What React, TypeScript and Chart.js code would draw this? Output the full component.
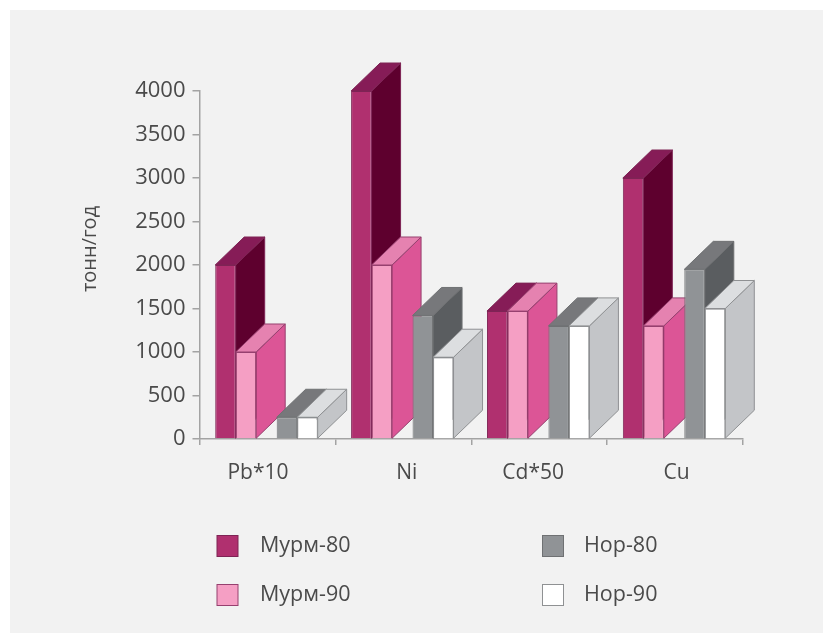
import React, { useEffect, useRef } from "react";
import { Chart, registerables } from "chart.js";

Chart.register(...registerables);

const categories = ["Pb*10", "Ni", "Cd*50", "Cu"];
const murm80 = [2000, 4000, 1470, 3000];
const murm90 = [1000, 2000, 1470, 1300];
const nor80 = [250, 1420, 1300, 1950];
const nor90 = [250, 940, 1300, 1500];
const gap: (number | null)[] = [null, null, null, null];
const yTicks = [0, 500, 1000, 1500, 2000, 2500, 3000, 3500, 4000];
const yTitle = "тонн/год";
const labelNudge = [-9.5, 3.5, -6, 1.5];

const FONT = '"Open Sans", sans-serif';
const TEXT = "#4a4a4a";
const AXIS = "#a3a3a3";
const DX = 29;
const DY = 28;

const series = [
  { label: "Мурм-80", data: murm80, front: "#b0306f", side: "#5e002e", top: "#861c57", line: "#7e2455" },
  { label: "Мурм-90", data: murm90, front: "#f59fc4", side: "#dc5596", top: "#e582b0", line: "#96406f" },
  { label: "", data: gap, front: "rgba(0,0,0,0)", side: "", top: "", line: "rgba(0,0,0,0)" },
  { label: "Нор-80", data: nor80, front: "#909396", side: "#5a5d60", top: "#77787b", line: "#6f7173" },
  { label: "Нор-90", data: nor90, front: "#ffffff", side: "#c3c5c8", top: "#dcdee0", line: "#8f9193" },
];

const legendLayout = [
  { index: 0, box: 217, text: 260, y: 546 },
  { index: 1, box: 217, text: 260, y: 595 },
  { index: 3, box: 542.5, text: 584, y: 546 },
  { index: 4, box: 542.5, text: 584, y: 595 },
];

const bars3d = {
  id: "bars3d",
  beforeDraw(chart: any) {
    const { ctx, width, height } = chart;
    ctx.save();
    ctx.fillStyle = "#ffffff";
    ctx.fillRect(0, 0, width, height);
    ctx.fillStyle = "#f2f2f2";
    ctx.fillRect(10, 10, width - 10, height - 10);
    ctx.restore();
    const x = chart.scales.x;
    x.getLabelItems().forEach((item: any, i: number) => {
      item.options.translation[0] = x.getPixelForTick(i) + labelNudge[i];
    });
  },
  beforeDatasetDraw() {
    return false;
  },
  afterDatasetsDraw(chart: any) {
    const { ctx } = chart;
    ctx.save();
    ctx.translate(-1, 0);
    categories.forEach((_, c) => {
      series.forEach((s, d) => {
        if (!s.side) return;
        const bar = chart.getDatasetMeta(d).data[c];
        const l = bar.x - bar.width / 2;
        const r = bar.x + bar.width / 2;
        const t = bar.y;
        const b = bar.base;
        ctx.save();
        ctx.lineWidth = 1;
        ctx.strokeStyle = s.line;
        ctx.lineJoin = "round";
        ctx.fillStyle = s.side;
        ctx.beginPath();
        ctx.moveTo(r, t);
        ctx.lineTo(r + DX, t - DY);
        ctx.lineTo(r + DX, b - DY);
        ctx.lineTo(r, b);
        ctx.closePath();
        ctx.fill();
        ctx.stroke();
        ctx.fillStyle = s.top;
        ctx.beginPath();
        ctx.moveTo(l, t);
        ctx.lineTo(l + DX, t - DY);
        ctx.lineTo(r + DX, t - DY);
        ctx.lineTo(r, t);
        ctx.closePath();
        ctx.fill();
        ctx.stroke();
        ctx.restore();
        bar.draw(ctx);
      });
    });
    ctx.restore();
    const yAxis = chart.scales.y;
    ctx.save();
    ctx.fillStyle = TEXT;
    ctx.font = `20px ${FONT}`;
    ctx.textBaseline = "middle";
    ctx.translate(90, (yAxis.top + yAxis.bottom) / 2 - 16);
    ctx.rotate(-Math.PI / 2);
    ctx.textAlign = "center";
    ctx.fillText(yTitle, 0, 0);
    ctx.restore();

    ctx.save();
    ctx.textBaseline = "middle";
    legendLayout.forEach((e) => {
      const s = series[e.index];
      ctx.fillStyle = s.front;
      ctx.strokeStyle = s.line;
      ctx.lineWidth = 1;
      ctx.fillRect(e.box, e.y - 10.5, 21, 21);
      ctx.strokeRect(e.box, e.y - 10.5, 21, 21);
      ctx.fillStyle = TEXT;
      ctx.font = `21.5px ${FONT}`;
      ctx.fillText(s.label, e.text, e.y);
    });
    ctx.restore();
  },
};

export default function App() {
  const ref = useRef<HTMLCanvasElement>(null);
  useEffect(() => {
    const chart = new Chart(ref.current!, {
      type: "bar",
      plugins: [bars3d],
      data: {
        labels: categories,
        datasets: series.map((s) => ({
          label: s.label,
          data: s.data,
          backgroundColor: s.front,
          borderColor: s.line,
          borderWidth: 1,
          categoryPercentage: 0.754,
          barPercentage: 1,
        })),
      },
      options: {
        responsive: false,
        animation: false,
        layout: { padding: { top: 91, right: 80, left: 0, bottom: 0 } },
        plugins: { legend: { display: false }, title: { display: false }, tooltip: { enabled: false } },
        scales: {
          x: {
            afterFit: (s: any) => { s.height = 194; },
            grid: { drawOnChartArea: false, color: AXIS, lineWidth: 1.5, tickLength: 6 },
            border: { color: AXIS, width: 1.5 },
            ticks: { color: TEXT, font: { family: FONT, size: 21 }, padding: 15, maxRotation: 0 },
          },
          y: {
            min: 0,
            max: 4000,
            afterFit: (s: any) => { s.width = 199.5; },
            afterBuildTicks: (s: any) => { s.ticks = yTicks.map((value) => ({ value })); },
            grid: { drawOnChartArea: false, color: AXIS, lineWidth: 1.5, tickLength: 7 },
            border: { color: AXIS, width: 1.5 },
            ticks: { color: TEXT, font: { family: FONT, size: 22 }, padding: 7, callback: (v: any) => String(v) },
          },
        },
      },
    } as any);
    return () => chart.destroy();
  }, []);
  return (
    <canvas
      ref={ref}
      width={823}
      height={633}
      style={{ position: "absolute", left: 0, top: 0, width: 823, height: 633 }}
    />
  );
}
